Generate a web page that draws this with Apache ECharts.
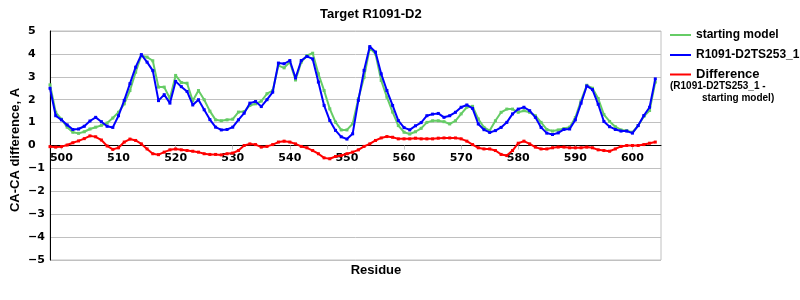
<!DOCTYPE html>
<html>
<head>
<meta charset="utf-8">
<script src="https://cdn.jsdelivr.net/npm/echarts@6/dist/echarts.min.js"></script>
<style>
html,body{margin:0;padding:0;background:#fff;}
#chart{width:800px;height:300px;}
</style>
</head>
<body>
<div id="chart"></div>
<script>
// Residue numbers (x axis)
const residues = [498,499,500,501,502,503,504,505,506,507,508,509,510,511,512,513,514,515,516,517,518,519,520,521,522,523,524,525,526,527,528,529,530,531,532,533,534,535,536,537,538,539,540,541,542,543,544,545,546,547,548,549,550,551,552,553,554,555,556,557,558,559,560,561,562,563,564,565,566,567,568,569,570,571,572,573,574,575,576,577,578,579,580,581,582,583,584,585,586,587,588,589,590,591,592,593,594,595,596,597,598,599,600,601,602,603,604];

const startingModel = [2.65,1.45,1.15,0.8,0.58,0.53,0.6,0.72,0.8,0.88,0.98,1.2,1.45,1.82,2.4,3.2,3.93,3.86,3.7,2.55,2.55,2.05,3.06,2.75,2.72,1.95,2.4,2.0,1.5,1.12,1.08,1.12,1.15,1.46,1.48,1.75,1.82,1.94,2.26,2.4,3.49,3.39,3.64,2.86,3.64,3.93,4.03,3.13,2.4,1.6,1.02,0.68,0.68,0.95,2.04,2.98,4.26,4.0,2.84,2.11,1.46,0.87,0.58,0.5,0.6,0.75,1.01,1.08,1.08,1.04,0.94,1.08,1.38,1.67,1.71,1.16,0.79,0.65,1.08,1.45,1.59,1.59,1.45,1.52,1.45,1.3,1.01,0.7,0.63,0.68,0.74,0.8,1.22,1.96,2.63,2.5,2.05,1.35,1.05,0.82,0.68,0.65,0.58,0.87,1.27,1.53,2.77];

const model = [2.5,1.3,1.12,0.9,0.7,0.72,0.84,1.07,1.23,1.04,0.84,0.79,1.3,1.97,2.7,3.42,3.97,3.64,3.27,1.96,2.22,1.85,2.8,2.57,2.36,1.77,2.0,1.56,1.13,0.8,0.68,0.7,0.8,1.12,1.41,1.85,1.92,1.7,2.0,2.33,3.6,3.57,3.71,2.95,3.71,3.89,3.78,2.77,1.75,1.09,0.66,0.38,0.28,0.51,1.97,3.28,4.32,4.08,3.13,2.4,1.75,1.09,0.78,0.68,0.86,1.0,1.3,1.37,1.4,1.23,1.3,1.45,1.67,1.77,1.62,0.94,0.69,0.57,0.65,0.79,1.01,1.38,1.59,1.67,1.52,1.23,0.79,0.54,0.48,0.55,0.7,0.72,1.12,1.85,2.6,2.44,1.8,1.05,0.82,0.7,0.63,0.63,0.54,0.87,1.31,1.67,2.91];

const difference = [-0.05,-0.07,-0.05,0.02,0.12,0.2,0.3,0.42,0.38,0.24,-0.02,-0.17,-0.1,0.15,0.28,0.22,0.07,-0.15,-0.36,-0.4,-0.29,-0.19,-0.15,-0.19,-0.22,-0.25,-0.29,-0.36,-0.39,-0.39,-0.41,-0.36,-0.33,-0.22,0,0.07,0.04,-0.07,-0.04,0.04,0.15,0.19,0.15,0.07,-0.04,-0.1,-0.22,-0.36,-0.54,-0.58,-0.48,-0.44,-0.36,-0.29,-0.19,-0.04,0.07,0.22,0.33,0.39,0.36,0.29,0.29,0.29,0.32,0.29,0.29,0.29,0.32,0.33,0.33,0.33,0.29,0.19,0.04,-0.1,-0.15,-0.15,-0.22,-0.39,-0.44,-0.22,0.1,0.19,0.07,-0.07,-0.15,-0.15,-0.1,-0.07,-0.07,-0.1,-0.1,-0.1,-0.07,-0.1,-0.19,-0.22,-0.25,-0.15,-0.04,0,0,0,0.04,0.1,0.15];

const xTicks = [500,510,520,530,540,550,560,570,580,590,600];
const yTicks = [-5,-4,-3,-2,-1,0,1,2,3,4,5];

const seriesNames = ['starting model','R1091-D2TS253_1','Difference'];
const seriesColors = ['#66cc66','#0000ff','#ff0000'];
const seriesValues = [startingModel, model, difference];

const SANS = '"Liberation Sans", Arial, sans-serif';
const LABEL_FONT = '"DejaVu Sans", Verdana, sans-serif';

const GRID_TOP = 31, GRID_BOTTOM = 40, H = 300;
const gridHeight = H - GRID_TOP - GRID_BOTTOM;
// move the x axis (line, ticks, labels) up to y = 0
const zeroOffset = -gridHeight * (0 - (-5)) / (5 - (-5));

const chart = echarts.init(document.getElementById('chart'), null, {renderer:'canvas'});

const series = seriesNames.map((name, i) => ({
  name: name,
  type: 'line',
  data: residues.map((r, k) => [r, seriesValues[i][k]]),
  symbol: 'rect',
  symbolSize: 3,
  showSymbol: true,
  lineStyle: {color: seriesColors[i], width: 2},
  itemStyle: {color: seriesColors[i]},
  emphasis: {disabled: true},
  z: i === 1 ? 4 : 3
}));

chart.setOption({
  animation: false,
  backgroundColor: '#fff',
  title: {
    text: 'Target R1091-D2',
    left: 320,
    top: 8,
    padding: 0,
    textStyle: {fontFamily: SANS, fontSize: 13, fontWeight: 'bold', color: '#000'}
  },
  grid: {
    left: 50, right: 139, top: GRID_TOP, bottom: GRID_BOTTOM,
    show: true, borderColor: '#c0c0c0', borderWidth: 1, backgroundColor: 'transparent'
  },
  legend: {
    orient: 'vertical',
    left: 670,
    top: 28,
    padding: 0,
    itemGap: 6,
    itemWidth: 21,
    itemHeight: 2,
    icon: 'rect',
    selectedMode: false,
    textStyle: {fontFamily: SANS, fontSize: 12, fontWeight: 'bold', color: '#000', lineHeight: 14},
    data: [
      {name: 'starting model'},
      {name: 'R1091-D2TS253_1'},
      {name: 'Difference', textStyle: {fontSize: 13, fontFamily: SANS, fontWeight: 'bold', color: '#000', lineHeight: 13}}
    ]
  },
  xAxis: {
    type: 'value',
    min: 498,
    max: 605,
    offset: zeroOffset,
    axisLine: {show: true, onZero: false, lineStyle: {color: '#000', width: 1}},
    axisTick: {show: true, length: 4, lineStyle: {color: '#c0c0c0'}, customValues: xTicks},
    axisLabel: {
      customValues: xTicks,
      margin: 7,
      fontFamily: LABEL_FONT, fontSize: 11, fontWeight: 'bold', color: '#000'
    },
    splitLine: {show: false}
  },
  yAxis: {
    type: 'value',
    min: -5,
    max: 5,
    interval: 1,
    axisLine: {show: true, onZero: false, lineStyle: {color: '#000', width: 1}},
    axisTick: {show: false},
    axisLabel: {
      margin: 22,
      align: 'left',
      fontFamily: LABEL_FONT, fontSize: 11, fontWeight: 'bold', color: '#000',
      formatter: v => (yTicks.indexOf(v) >= 0 ? (v < 0 ? '\u2212' + Math.abs(v) : String(v)) : '')
    },
    splitLine: {show: true, lineStyle: {color: '#c0c0c0', width: 1}}
  },
  graphic: [
    {
      type: 'text', x: 15, y: 150, rotation: Math.PI / 2,
      style: {text: 'CA-CA difference, A', fontFamily: SANS, fontSize: 13, fontWeight: 'bold', fill: '#000', textAlign: 'center', textVerticalAlign: 'middle'}
    },
    {
      type: 'text', x: 376, y: 270,
      style: {text: 'Residue', fontFamily: SANS, fontSize: 13, fontWeight: 'bold', fill: '#000', textAlign: 'center', textVerticalAlign: 'middle'}
    },
    {
      type: 'text', x: 670, y: 86,
      style: {text: '(R1091-D2TS253_1 -', fontFamily: SANS, fontSize: 10, fontWeight: 'bold', fill: '#000', textAlign: 'left', textVerticalAlign: 'middle'}
    },
    {
      type: 'text', x: 702, y: 98,
      style: {text: 'starting model)', fontFamily: SANS, fontSize: 10, fontWeight: 'bold', fill: '#000', textAlign: 'left', textVerticalAlign: 'middle'}
    }
  ],
  series: series
});
</script>
</body>
</html>
